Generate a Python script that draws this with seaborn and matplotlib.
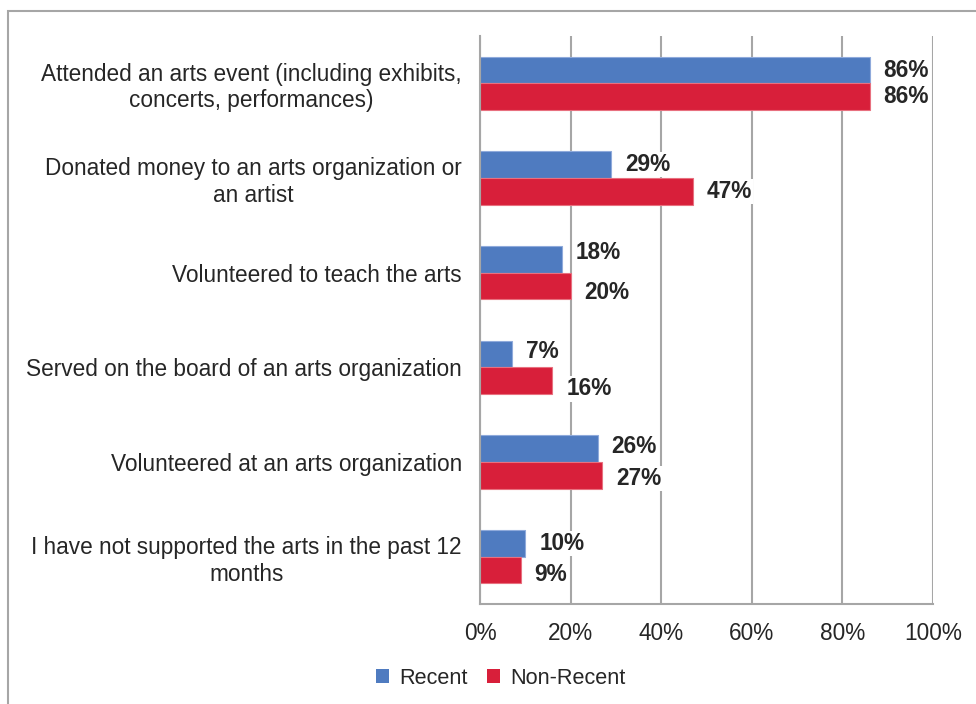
import matplotlib
matplotlib.use("Agg")
import matplotlib.pyplot as plt
import seaborn as sns
import pandas as pd
from matplotlib.patches import Rectangle, Patch
from matplotlib.ticker import FuncFormatter

categories = [
    "Attended an arts event (including exhibits,\nconcerts, performances)",
    "Donated money to an arts organization or\nan artist",
    "Volunteered to teach the arts",
    "Served on the board of an arts organization",
    "Volunteered at an arts organization",
    "I have not supported the arts in the past 12\nmonths",
]
recent = [86, 29, 18, 7, 26, 10]
non_recent = [86, 47, 20, 16, 27, 9]
series = ["Recent", "Non-Recent"]
x_ticks = [0, 20, 40, 60, 80, 100]

colors = {"Recent": "#4F7BC0", "Non-Recent": "#D81F3A"}
edge_colors = {"Recent": "#8FAADB", "Non-Recent": "#E8707F"}
# vertical nudges (points) keeping neighbouring value labels apart
nudge_recent = [0, 0, 5, 1.5, 1.5, 0]
nudge_non_recent = [0, 0, -5, -6, -2.5, -3]

df = pd.DataFrame({
    "category": categories * 2,
    "series": ["Recent"] * len(categories) + ["Non-Recent"] * len(categories),
    "value": recent + non_recent,
})

sns.set_theme(style="white")
plt.rcParams["font.family"] = ["Liberation Sans", "DejaVu Sans"]
text_color = "#262626"
grid_color = "#A6A6A6"
fs = 16.3

fig = plt.figure(figsize=(9.76, 7.04), dpi=100)
ax = fig.add_axes([480 / 976, 1 - 604 / 704, 453 / 976, 568 / 704])

sns.barplot(data=df, y="category", x="value", hue="series", order=categories,
            hue_order=series, palette=colors, orient="h", width=0.56,
            ax=ax, legend=False, saturation=1)

for container, s in zip(ax.containers, series):
    for bar in container:
        bar.set_edgecolor(edge_colors[s])
        bar.set_linewidth(0.8)

ax.set_xlim(0, 100)
ax.set_xticks(x_ticks)
ax.xaxis.set_major_formatter(FuncFormatter(lambda v, p: f"{v:.0f}%"))
ax.set_xlabel("")
ax.set_ylabel("")
ax.set_axisbelow(True)
ax.grid(axis="x", color=grid_color, linewidth=1.5)
ax.grid(axis="y", visible=False)
for side in ["top", "right"]:
    ax.spines[side].set_visible(False)
for side in ["left", "bottom"]:
    ax.spines[side].set_color(grid_color)
    ax.spines[side].set_linewidth(1.5)
ax.tick_params(axis="x", length=0, pad=13, labelsize=fs, labelcolor=text_color)
ax.tick_params(axis="y", length=0, pad=13, labelsize=fs, labelcolor=text_color)
for lab in ax.get_yticklabels():
    lab.set_multialignment("center")

for container, vals, nudges in zip(ax.containers, [recent, non_recent],
                                   [nudge_recent, nudge_non_recent]):
    for bar, v, dy in zip(container, vals, nudges):
        yc = bar.get_y() + bar.get_height() / 2
        ax.annotate(f"{v}%", xy=(v, yc), xytext=(10, dy),
                    textcoords="offset points", ha="left", va="center",
                    fontsize=fs, fontweight="bold", color=text_color,
                    bbox=dict(boxstyle="square,pad=0.05", fc="white", ec="none"),
                    annotation_clip=False, zorder=5)

handles = [Patch(facecolor=colors[s], edgecolor="none", label=s) for s in series]
fig.legend(handles=handles, loc="center", bbox_to_anchor=(0.513, 1 - 678 / 704),
           ncol=2, frameon=False, fontsize=15.6, handlelength=0.6,
           handleheight=0.6, handletextpad=0.45, columnspacing=0.9,
           labelcolor=text_color)

# outer chart frame
fig.patches.append(Rectangle((8 / 976, -0.05), 1.1, 1 - 11 / 704 + 0.05,
                             transform=fig.transFigure, fill=False,
                             edgecolor="#A6A6A6", linewidth=1.5))

fig.savefig("out.png", dpi=100)
